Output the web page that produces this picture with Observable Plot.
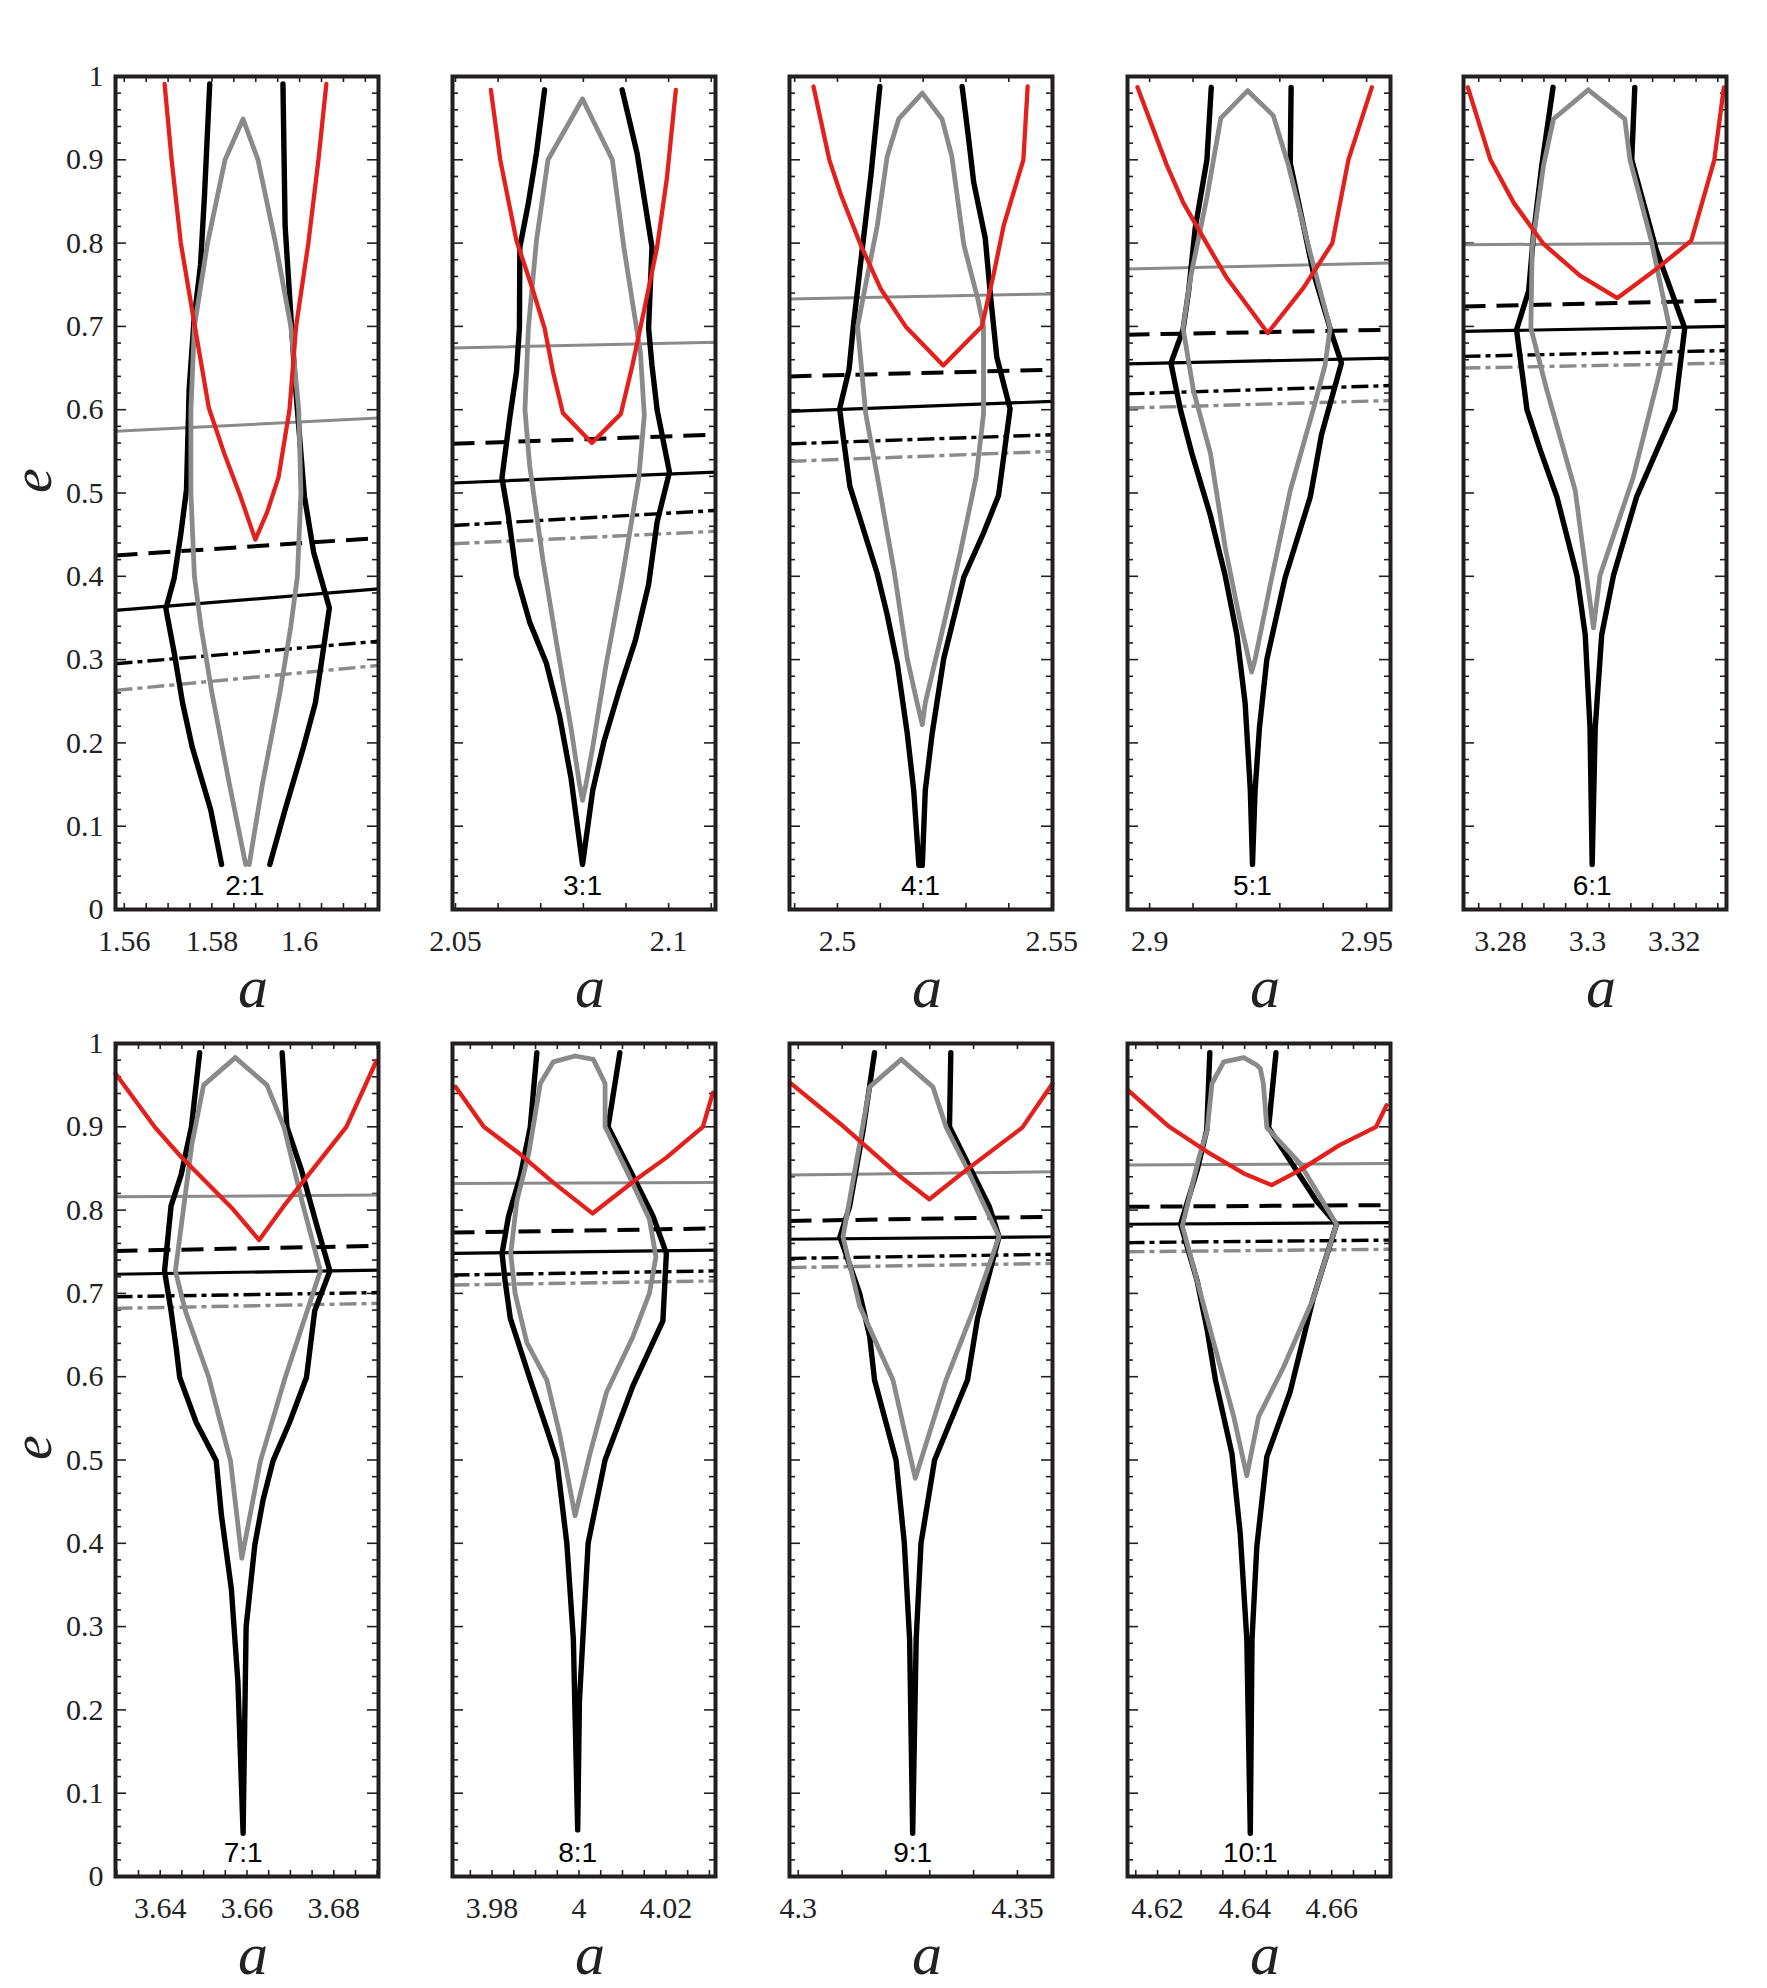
<!DOCTYPE html>
<html>
<head>
<meta charset="utf-8">
<script src="https://cdn.jsdelivr.net/npm/d3@7"></script>
<script src="https://cdn.jsdelivr.net/npm/@observablehq/plot@0.6"></script>
<style>
html, body { margin: 0; padding: 0; background: #fff; }
#root { position: relative; width: 1767px; height: 1988px; background: #fff; overflow: hidden; }
.panel { position: absolute; }
</style>
</head>
<body>
<div id="root"></div>
<script>
// ---------------- DATA ----------------
const resonanceLabels = ["2:1", "3:1", "4:1", "5:1", "6:1", "7:1", "8:1", "9:1", "10:1"];
const resonanceCentres = [1.5875, 2.0798, 2.5194, 2.9237, 3.3011, 3.6591, 3.9997, 4.3261, 4.6413];
const aDomains = [
  [1.558, 1.618], [2.0493, 2.111], [2.4888, 2.5502], [2.8949, 2.9555], [3.2715, 3.332],
  [3.6297, 3.6903], [3.9709, 4.0314], [4.298, 4.358], [4.6131, 4.6735]
];
const aTickLabels = [
  [1.56, 1.58, 1.6], [2.05, 2.1], [2.5, 2.55], [2.9, 2.95], [3.28, 3.3, 3.32],
  [3.64, 3.66, 3.68], [3.98, 4, 4.02], [4.3, 4.35], [4.62, 4.64, 4.66]
];
const aMinorStep = [0.005, 0.01, 0.01, 0.01, 0.005, 0.005, 0.005, 0.01, 0.005];
const eTickLabels = [0, 0.1, 0.2, 0.3, 0.4, 0.5, 0.6, 0.7, 0.8, 0.9, 1];

// red curves (a, e)
const redCurves = [
  [[1.5692,0.991],[1.5708,0.9],[1.5729,0.8],[1.5761,0.7],[1.5793,0.602],[1.5827,0.549],[1.5865,0.496],[1.5899,0.444],[1.5926,0.477],[1.5952,0.519],[1.5977,0.6],[1.5992,0.7],[1.602,0.8],[1.6043,0.9],[1.6061,0.991]],
  [[2.0583,0.984],[2.0605,0.9],[2.0643,0.803],[2.0682,0.743],[2.0709,0.698],[2.0729,0.645],[2.0752,0.596],[2.082,0.56],[2.0888,0.595],[2.0915,0.653],[2.0946,0.728],[2.0973,0.795],[2.0996,0.878],[2.1017,0.984]],
  [[2.4944,0.988],[2.4981,0.9],[2.5008,0.858],[2.5054,0.798],[2.5101,0.745],[2.5159,0.7],[2.5247,0.653],[2.5337,0.7],[2.5364,0.761],[2.5388,0.821],[2.5434,0.9],[2.5444,0.988]],
  [[2.8972,0.987],[2.904,0.893],[2.9078,0.848],[2.9132,0.799],[2.9178,0.758],[2.9272,0.692],[2.9354,0.746],[2.9421,0.8],[2.9458,0.9],[2.9512,0.987]],
  [[3.2725,0.987],[3.2777,0.9],[3.2831,0.848],[3.2899,0.799],[3.2983,0.761],[3.3069,0.734],[3.3159,0.769],[3.3239,0.803],[3.3292,0.9],[3.3314,0.987]],
  [[3.6297,0.964],[3.6387,0.9],[3.6448,0.864],[3.6568,0.801],[3.6628,0.764],[3.6685,0.805],[3.6829,0.9],[3.6898,0.979]],
  [[3.9716,0.948],[3.9781,0.9],[3.9865,0.867],[3.9941,0.833],[4.0031,0.796],[4.0132,0.837],[4.0201,0.863],[4.0285,0.9],[4.0308,0.941]],
  [[4.2981,0.953],[4.3095,0.904],[4.3231,0.841],[4.3299,0.813],[4.3383,0.848],[4.3511,0.899],[4.358,0.952]],
  [[4.6132,0.944],[4.6227,0.9],[4.6314,0.87],[4.6398,0.844],[4.6462,0.83],[4.6527,0.848],[4.6618,0.878],[4.6702,0.9],[4.6726,0.926]]
];

// black curves: list of branches per panel
const blackCurves = [
  [
    [[1.5795,0.991],[1.5783,0.857],[1.5774,0.774],[1.5759,0.707],[1.5748,0.624],[1.5742,0.504],[1.5729,0.451],[1.5714,0.398],[1.5695,0.361],[1.5714,0.308],[1.5733,0.248],[1.5755,0.195],[1.5797,0.12],[1.5822,0.054]],
    [[1.5962,0.991],[1.5967,0.82],[1.5979,0.722],[1.599,0.632],[1.6011,0.496],[1.6032,0.429],[1.6068,0.362],[1.6051,0.301],[1.6036,0.248],[1.6009,0.195],[1.5967,0.12],[1.5932,0.054]]
  ],
  [[[2.0709,0.984],[2.069,0.908],[2.0671,0.848],[2.0651,0.795],[2.065,0.698],[2.0643,0.645],[2.0628,0.593],[2.0609,0.518],[2.0624,0.473],[2.0643,0.401],[2.0674,0.345],[2.0713,0.296],[2.0744,0.233],[2.0771,0.158],[2.0798,0.054],[2.0822,0.143],[2.0849,0.203],[2.0884,0.263],[2.0922,0.323],[2.0953,0.39],[2.0973,0.465],[2.1002,0.525],[2.0973,0.6],[2.0961,0.653],[2.0953,0.698],[2.0961,0.795],[2.0926,0.908],[2.0891,0.984]]],
  [[[2.5099,0.988],[2.5078,0.881],[2.5054,0.776],[2.5037,0.7],[2.5027,0.648],[2.5005,0.601],[2.5014,0.565],[2.5029,0.508],[2.5054,0.467],[2.5093,0.403],[2.5116,0.354],[2.514,0.294],[2.5163,0.211],[2.5178,0.143],[2.519,0.053],[2.5198,0.053],[2.5205,0.143],[2.5221,0.211],[2.5248,0.301],[2.5295,0.399],[2.5341,0.452],[2.5376,0.497],[2.5403,0.601],[2.5372,0.663],[2.5357,0.738],[2.5345,0.806],[2.5318,0.873],[2.5306,0.926],[2.5291,0.988]]],
  [[[2.9142,0.987],[2.9132,0.9],[2.9105,0.818],[2.909,0.743],[2.9077,0.696],[2.9049,0.656],[2.9071,0.6],[2.9097,0.548],[2.914,0.473],[2.9174,0.401],[2.9201,0.33],[2.922,0.248],[2.9232,0.143],[2.9237,0.054],[2.9243,0.143],[2.9253,0.218],[2.927,0.3],[2.9312,0.398],[2.937,0.495],[2.9396,0.57],[2.9442,0.656],[2.9419,0.692],[2.9377,0.765],[2.9324,0.896],[2.9326,0.987]]],
  [[[3.2921,0.987],[3.2895,0.893],[3.2876,0.81],[3.2865,0.743],[3.2837,0.696],[3.2861,0.6],[3.2892,0.551],[3.293,0.495],[3.2976,0.401],[3.2995,0.33],[3.3006,0.218],[3.3011,0.054],[3.3018,0.218],[3.3033,0.33],[3.306,0.401],[3.3113,0.495],[3.3163,0.555],[3.3201,0.6],[3.3224,0.698],[3.3159,0.791],[3.3102,0.9],[3.3109,0.987]]],
  [[[3.6491,0.989],[3.6472,0.9],[3.6448,0.842],[3.6425,0.805],[3.641,0.727],[3.6425,0.679],[3.6437,0.634],[3.6445,0.599],[3.6483,0.545],[3.6529,0.499],[3.6541,0.434],[3.6564,0.345],[3.6579,0.234],[3.6591,0.052],[3.6598,0.3],[3.6618,0.398],[3.6637,0.452],[3.666,0.499],[3.6698,0.545],[3.6737,0.599],[3.6756,0.679],[3.6791,0.727],[3.676,0.783],[3.6725,0.849],[3.6692,0.9],[3.6681,0.989]]],
  [[[3.9903,0.989],[3.9888,0.9],[3.9865,0.841],[3.9838,0.793],[3.9823,0.748],[3.983,0.715],[3.9842,0.67],[3.9888,0.596],[3.9926,0.537],[3.9949,0.5],[3.9972,0.4],[3.9987,0.285],[3.9997,0.056],[4.0001,0.211],[4.0021,0.4],[4.006,0.5],[4.0124,0.589],[4.0193,0.667],[4.0201,0.748],[4.017,0.793],[4.0124,0.841],[4.0067,0.9],[4.0094,0.989]]],
  [[[4.3174,0.989],[4.3148,0.896],[4.3117,0.804],[4.3095,0.768],[4.314,0.7],[4.3163,0.648],[4.3174,0.596],[4.3223,0.5],[4.3242,0.4],[4.3254,0.285],[4.3261,0.052],[4.3269,0.285],[4.328,0.4],[4.3311,0.5],[4.3386,0.596],[4.3409,0.67],[4.3458,0.768],[4.3436,0.804],[4.3345,0.9],[4.3348,0.989]]],
  [[[4.632,0.989],[4.6313,0.896],[4.6291,0.848],[4.6253,0.783],[4.6291,0.715],[4.6314,0.656],[4.6333,0.596],[4.6371,0.507],[4.639,0.411],[4.6405,0.285],[4.6413,0.052],[4.6417,0.285],[4.6428,0.396],[4.6451,0.504],[4.6504,0.581],[4.6557,0.693],[4.6611,0.783],[4.6565,0.811],[4.6455,0.899],[4.6472,0.989]]]
];

// grey closed curves
const grayCurves = [
  [[1.5877,0.054],[1.584,0.15],[1.58,0.26],[1.5775,0.34],[1.576,0.4],[1.5752,0.5],[1.5752,0.6],[1.576,0.7],[1.579,0.8],[1.583,0.9],[1.5871,0.949],[1.5905,0.9],[1.5945,0.8],[1.598,0.7],[1.5998,0.6],[1.6003,0.5],[1.5995,0.4],[1.598,0.34],[1.5955,0.26],[1.5915,0.15],[1.5885,0.054]],
  [[2.0798,0.973],[2.0717,0.9],[2.069,0.803],[2.0671,0.698],[2.0663,0.6],[2.0674,0.533],[2.0705,0.42],[2.0736,0.323],[2.0771,0.218],[2.0791,0.15],[2.0798,0.131],[2.0806,0.15],[2.0822,0.195],[2.0853,0.293],[2.0891,0.398],[2.093,0.518],[2.0943,0.593],[2.0934,0.668],[2.0895,0.795],[2.0868,0.9],[2.0798,0.973]],
  [[2.5198,0.98],[2.5143,0.949],[2.5116,0.904],[2.5093,0.821],[2.507,0.761],[2.5047,0.7],[2.5066,0.595],[2.5093,0.52],[2.5132,0.407],[2.5163,0.301],[2.5186,0.248],[2.5198,0.222],[2.5205,0.248],[2.524,0.324],[2.5287,0.429],[2.5324,0.52],[2.5341,0.595],[2.5341,0.7],[2.5329,0.73],[2.5295,0.798],[2.5267,0.904],[2.5244,0.949],[2.5198,0.98]],
  [[2.9226,0.983],[2.9164,0.95],[2.9132,0.855],[2.9094,0.758],[2.9077,0.698],[2.9101,0.623],[2.914,0.548],[2.9174,0.435],[2.9209,0.345],[2.9235,0.285],[2.9243,0.3],[2.9278,0.39],[2.9324,0.503],[2.9377,0.6],[2.9404,0.653],[2.9416,0.698],[2.937,0.788],[2.932,0.893],[2.9285,0.953],[2.9226,0.983]],
  [[3.3002,0.984],[3.2922,0.949],[3.2899,0.893],[3.2873,0.795],[3.287,0.698],[3.2907,0.623],[3.2972,0.503],[3.3014,0.338],[3.3029,0.401],[3.3105,0.518],[3.3163,0.638],[3.3189,0.698],[3.3147,0.803],[3.3098,0.9],[3.3086,0.949],[3.3002,0.984]],
  [[3.6573,0.983],[3.65,0.95],[3.6473,0.879],[3.6435,0.727],[3.6458,0.679],[3.6512,0.599],[3.6562,0.499],[3.6588,0.382],[3.6631,0.499],[3.6688,0.599],[3.6769,0.727],[3.6726,0.812],[3.6685,0.9],[3.6646,0.95],[3.6573,0.983]],
  [[3.9991,0.985],[3.9941,0.978],[3.9911,0.952],[3.9884,0.867],[3.9857,0.811],[3.9843,0.748],[3.9853,0.7],[3.988,0.641],[3.9926,0.596],[3.9956,0.53],[3.9991,0.433],[4.0025,0.507],[4.0063,0.581],[4.0124,0.648],[4.0162,0.7],[4.0177,0.744],[4.0162,0.789],[4.0109,0.848],[4.006,0.9],[4.006,0.952],[4.0033,0.981],[3.9991,0.985]],
  [[4.3235,0.981],[4.3163,0.948],[4.3133,0.859],[4.3102,0.768],[4.314,0.685],[4.3216,0.596],[4.3267,0.478],[4.3337,0.596],[4.3398,0.678],[4.3458,0.768],[4.3383,0.852],[4.3337,0.9],[4.3307,0.948],[4.3235,0.981]],
  [[4.6398,0.983],[4.6352,0.978],[4.6325,0.952],[4.6314,0.896],[4.6295,0.863],[4.6257,0.781],[4.6291,0.715],[4.6333,0.633],[4.6375,0.552],[4.6405,0.481],[4.6432,0.552],[4.6489,0.611],[4.6557,0.693],[4.6611,0.783],[4.6527,0.856],[4.6451,0.899],[4.6443,0.952],[4.6436,0.97],[4.6428,0.974],[4.6398,0.983]]
];

// straight lines: e at the left and right edge of each panel
const graySolidLines   = [[0.574,0.59],[0.674,0.681],[0.733,0.739],[0.769,0.776],[0.798,0.8],[0.816,0.818],[0.832,0.833],[0.842,0.846],[0.854,0.856]];
const blackDashedLines = [[0.425,0.446],[0.559,0.57],[0.64,0.648],[0.69,0.696],[0.724,0.731],[0.751,0.757],[0.773,0.778],[0.787,0.792],[0.804,0.806]];
const blackSolidLines  = [[0.359,0.385],[0.512,0.525],[0.598,0.61],[0.655,0.662],[0.694,0.7],[0.723,0.728],[0.748,0.752],[0.765,0.768],[0.783,0.785]];
const blackDashDotLines= [[0.295,0.322],[0.461,0.479],[0.559,0.57],[0.619,0.629],[0.664,0.671],[0.696,0.701],[0.722,0.727],[0.742,0.747],[0.761,0.764]];
const grayDashDotLines = [[0.263,0.293],[0.439,0.454],[0.538,0.55],[0.602,0.611],[0.65,0.656],[0.682,0.688],[0.71,0.715],[0.731,0.736],[0.75,0.753]];

// ---------------- LAYOUT / STYLE ----------------
const frameLefts = [115, 452, 789, 1127, 1463];
const frameTops = [76, 1043];
const frameW = 263, frameH = 833;
const mL = 115, mR = 14, mT = 14, mB = 124;
const RED = "#e3201c", GRAY = "#8a8a8a", BLACK = "#000000", FRAME = "#231f20";
const serif = "'Liberation Serif', 'Times New Roman', serif";
const sans = "'Liberation Sans', Arial, sans-serif";

const root = document.getElementById("root");

resonanceLabels.forEach((lab, i) => {
  const row = i < 5 ? 0 : 1;
  const col = i < 5 ? i : i - 5;
  const [a0, a1] = aDomains[i];
  const span = a1 - a0;

  const toRows = (pts, extra = {}) => pts.map(([a, e]) => ({a, e, ...extra}));
  const red = toRows(redCurves[i]);
  const black = blackCurves[i].flatMap((br, b) => toRows(br, {branch: b}));
  const gray = toRows(grayCurves[i]);
  const edgeLine = (v) => [{a: a0, e: v[0]}, {a: a1, e: v[1]}];

  // tick positions
  const step = aMinorStep[i];
  const xt = d3.range(Math.ceil(a0 / step - 1e-9), Math.floor(a1 / step + 1e-9) + 1).map(k => +(k * step).toFixed(4));
  const yt = d3.range(0, 51).map(k => ({e: k / 50, major: k % 5 === 0}));
  const xTickE = 6 / frameH;
  const yMinA = 6 / frameW * span, yMajA = 11 / frameW * span;

  const marks = [
    // inward ticks
    Plot.ruleX(xt, {x: d => d, y1: 0, y2: xTickE, stroke: FRAME, strokeWidth: 1.6}),
    Plot.ruleX(xt, {x: d => d, y1: 1 - xTickE, y2: 1, stroke: FRAME, strokeWidth: 1.6}),
    Plot.ruleY(yt, {y: "e", x1: a0, x2: d => a0 + (d.major ? yMajA : yMinA), stroke: FRAME, strokeWidth: 1.6}),
    Plot.ruleY(yt, {y: "e", x1: d => a1 - (d.major ? yMajA : yMinA), x2: a1, stroke: FRAME, strokeWidth: 1.6}),
    // straight lines
    Plot.line(edgeLine(graySolidLines[i]), {x: "a", y: "e", stroke: GRAY, strokeWidth: 3}),
    Plot.line(edgeLine(grayDashDotLines[i]), {x: "a", y: "e", stroke: GRAY, strokeWidth: 3.4, strokeDasharray: "17,5,5,5", strokeLinecap: "butt"}),
    Plot.line(edgeLine(blackDashDotLines[i]), {x: "a", y: "e", stroke: BLACK, strokeWidth: 3.4, strokeDasharray: "17,5,5,5", strokeLinecap: "butt"}),
    Plot.line(edgeLine(blackSolidLines[i]), {x: "a", y: "e", stroke: BLACK, strokeWidth: 3.2}),
    Plot.line(edgeLine(blackDashedLines[i]), {x: "a", y: "e", stroke: BLACK, strokeWidth: 4, strokeDasharray: "22,11", strokeLinecap: "butt"}),
    // curves
    Plot.line(black, {x: "a", y: "e", z: "branch", stroke: BLACK, strokeWidth: 5.4}),
    Plot.line(gray, {x: "a", y: "e", stroke: GRAY, strokeWidth: 4.8}),
    Plot.line(red, {x: "a", y: "e", stroke: RED, strokeWidth: 4.3}),
    // resonance label
    Plot.text([{a: resonanceCentres[i], e: 0.028, t: lab}], {x: "a", y: "e", text: "t", fontFamily: sans, fontSize: 28, fill: BLACK}),
    // axis label a
    Plot.text(["a"], {text: d => d, frameAnchor: "bottom", dx: 6, dy: 97, fontFamily: serif, fontStyle: "italic", fontSize: 60, fill: "#222"}),
    Plot.frame({stroke: FRAME, strokeWidth: 4})
  ];
  if (col === 0) {
    marks.push(Plot.text(["e"], {text: d => d, frameAnchor: "left", dx: -82, rotate: -90, fontFamily: serif, fontStyle: "italic", fontSize: 56, fill: "#222"}));
  }

  const chart = Plot.plot({
    width: mL + frameW + mR,
    height: mT + frameH + mB,
    marginLeft: mL, marginRight: mR, marginTop: mT, marginBottom: mB,
    style: {background: "transparent", fontFamily: serif, fontSize: "30px", color: "#222", overflow: "visible"},
    x: {domain: aDomains[i], ticks: aTickLabels[i], tickFormat: d => String(d), tickSize: 0, tickPadding: 20, label: null},
    y: col === 0
      ? {domain: [0, 1], ticks: eTickLabels, tickFormat: d => String(d), tickSize: 0, tickPadding: 12, label: null}
      : {domain: [0, 1], axis: null},
    marks
  });
  const div = document.createElement("div");
  div.className = "panel";
  div.style.left = (frameLefts[col] - mL) + "px";
  div.style.top = (frameTops[row] - mT) + "px";
  div.appendChild(chart);
  root.appendChild(div);
});
</script>
</body>
</html>
